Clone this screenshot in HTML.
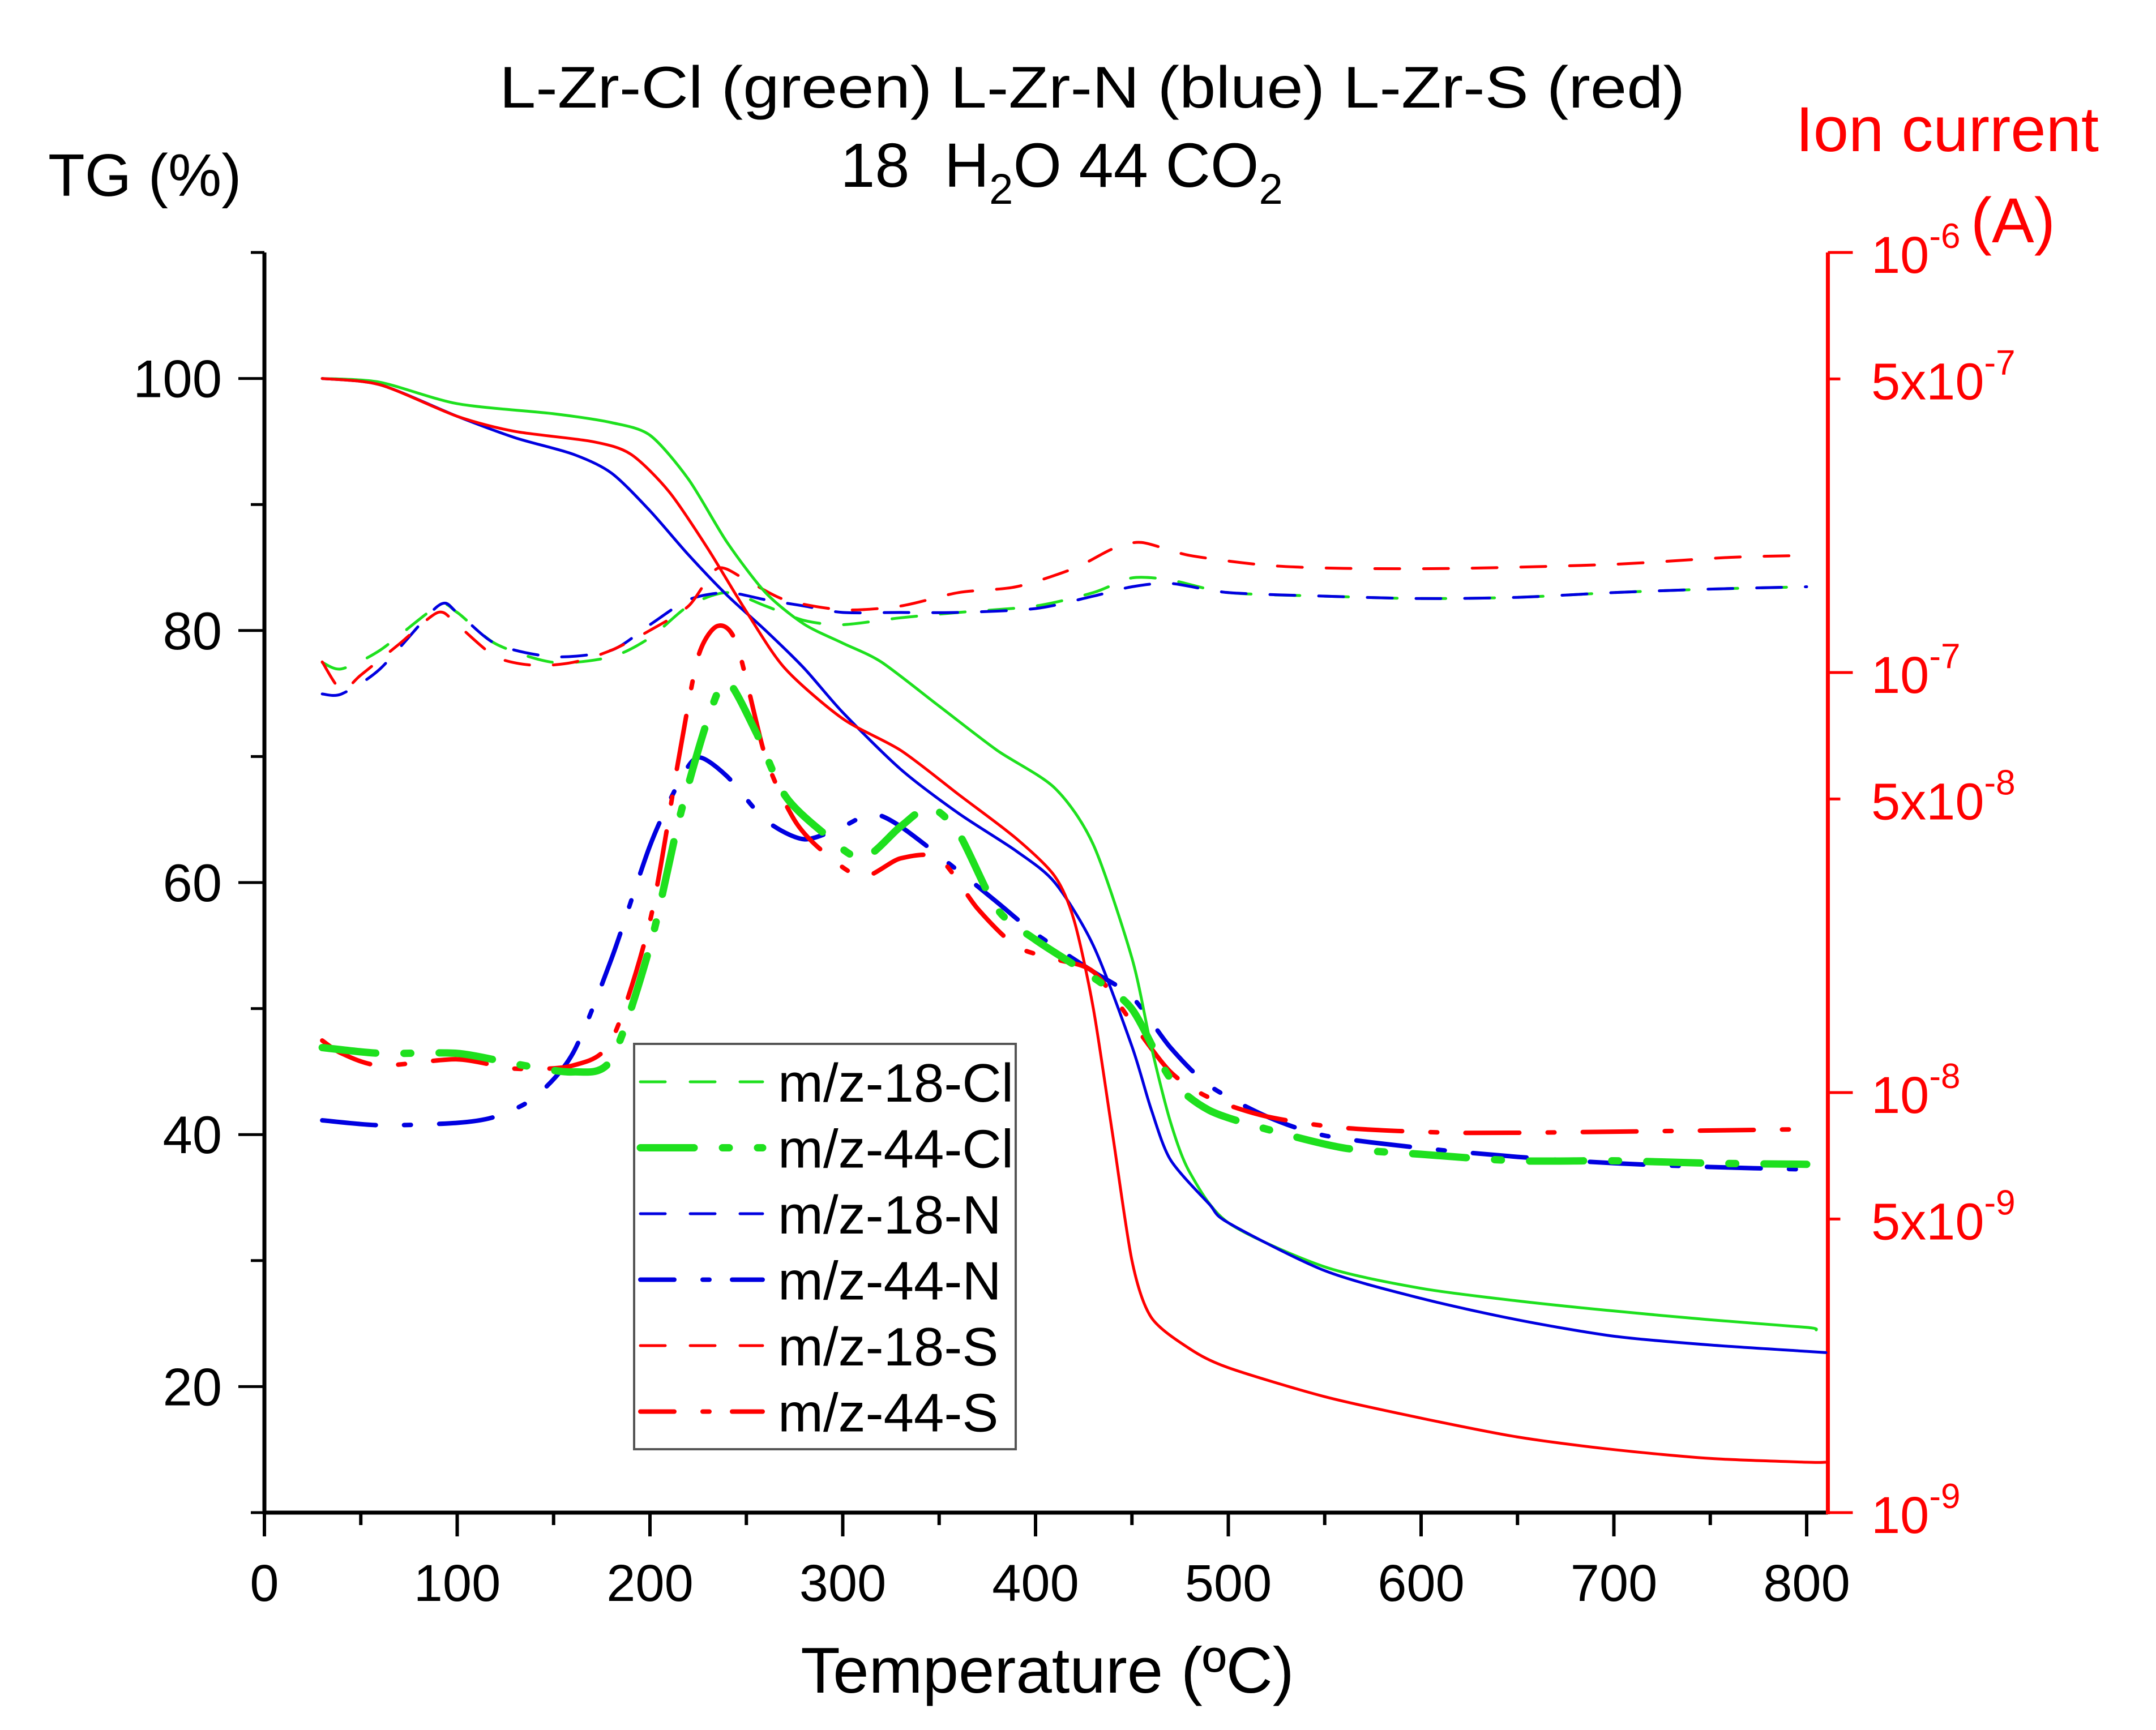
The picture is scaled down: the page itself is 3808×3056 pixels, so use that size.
<!DOCTYPE html>
<html><head><meta charset="utf-8"><style>
html,body{margin:0;padding:0;background:#fff;}
svg{display:block;font-family:"Liberation Sans",Arial,sans-serif;}
</style></head><body>
<svg id="chart" width="3808" height="3056" viewBox="0 0 3808 3056" xmlns="http://www.w3.org/2000/svg">
<rect width="3808" height="3056" fill="#fff"/>
<text x="1929" y="190" font-size="104" text-anchor="middle" textLength="2094" lengthAdjust="spacingAndGlyphs">L-Zr-Cl (green) L-Zr-N (blue) L-Zr-S (red)</text>
<text x="1875" y="330" font-size="110" text-anchor="middle" xml:space="preserve">18  H<tspan font-size="76" dy="30">2</tspan><tspan dy="-30">O 44 CO</tspan><tspan font-size="76" dy="30">2</tspan></text>
<text x="85" y="346" font-size="106">TG (%)</text>
<text x="3707" y="267" font-size="112" fill="#ff0000" text-anchor="end">Ion current</text>
<text x="3630" y="428" font-size="112" fill="#ff0000" text-anchor="end">(A)</text>
<text x="1850" y="2990" font-size="114" text-anchor="middle">Temperature (ºC)</text>
<g id="axes"></g>
<g id="series"></g>
<g id="legend"></g>
</svg>
<script>
// ---- data ----
const xTicks = [0,100,200,300,400,500,600,700,800];
const yTicksLeft = [20,40,60,80,100];
const yTicksRight = [1e-9,5e-9,1e-8,5e-8,1e-7,5e-7,1e-6];
const yTickRightBase = ['10','5x10','10','5x10','10','5x10','10'];
const yTickRightExp = ['-9','-9','-8','-8','-7','-7','-6'];

const tgTempCl = [30,60,100,150,180,200,220,240,260,280,300,320,350,380,410,430,450,460,470,480,500,550,600,650,700,750,800,805];
const tgCl = [100,99.7,98,97.2,96.5,95.5,92,87,83,80.5,79,77.5,74,70.5,67.5,63,54,47,41,37,33,29.5,27.8,26.8,26,25.3,24.7,24.5];
const tgTempN = [30,60,100,130,160,180,200,220,240,260,280,300,330,360,390,410,430,450,460,470,490,500,550,600,650,700,750,800,810];
const tgN = [100,99.5,97,95.3,94,92.5,89.5,86,82.8,80,77,73.5,69,65.5,62.5,60,55,47,42,38,34.5,33,29.2,27,25.3,24,23.3,22.8,22.7];
const tgTempS = [30,60,100,130,170,190,210,230,250,270,300,330,360,390,410,420,430,440,450,460,480,500,550,600,650,700,750,800,810];
const tgS = [100,99.5,97,95.8,95,94,91,86.5,81.5,77,73,70.5,67,63.5,60.5,57,50,40,30,25.5,23,21.5,19.2,17.5,16,15,14.3,14,14];

const msTemp18ClN = [30,40,60,90,100,120,150,180,200,220,240,260,280,300,330,360,400,430,450,470,500,550,600,650,700,750,800];
const ms18Cl = [1.057e-7,1.02e-7,1.13e-7,1.44e-7,1.39e-7,1.17e-7,1.057e-7,1.09e-7,1.21e-7,1.44e-7,1.55e-7,1.44e-7,1.33e-7,1.30e-7,1.35e-7,1.39e-7,1.44e-7,1.55e-7,1.68e-7,1.66e-7,1.55e-7,1.52e-7,1.50e-7,1.51e-7,1.55e-7,1.58e-7,1.60e-7];
const ms18N = [0.889e-7,0.889e-7,1.02e-7,1.44e-7,1.39e-7,1.17e-7,1.09e-7,1.13e-7,1.30e-7,1.49e-7,1.55e-7,1.49e-7,1.44e-7,1.39e-7,1.39e-7,1.39e-7,1.42e-7,1.52e-7,1.60e-7,1.63e-7,1.55e-7,1.52e-7,1.50e-7,1.51e-7,1.55e-7,1.58e-7,1.60e-7];
const msTemp18S = [30,40,50,70,90,100,120,140,160,180,200,220,235,250,270,300,330,360,390,420,440,455,480,520,560,620,700,760,800];
const ms18S = [1.06e-7,0.908e-7,0.986e-7,1.17e-7,1.39e-7,1.30e-7,1.09e-7,1.04e-7,1.057e-7,1.13e-7,1.26e-7,1.44e-7,1.77e-7,1.66e-7,1.49e-7,1.41e-7,1.44e-7,1.55e-7,1.60e-7,1.77e-7,1.97e-7,2.04e-7,1.90e-7,1.80e-7,1.77e-7,1.77e-7,1.81e-7,1.88e-7,1.90e-7];

const msTemp44Cl = [30,60,100,130,160,180,200,215,230,240,255,270,290,310,330,345,360,380,400,430,450,470,490,520,560,600,650,700,750,800];
const ms44Cl = [1.28e-8,1.24e-8,1.24e-8,1.17e-8,1.12e-8,1.20e-8,2.23e-8,4.45e-8,7.74e-8,9.51e-8,7.21e-8,5.10e-8,4.15e-8,3.61e-8,4.30e-8,4.77e-8,4.15e-8,2.74e-8,2.31e-8,1.88e-8,1.58e-8,1.08e-8,0.908e-8,0.818e-8,0.738e-8,0.713e-8,0.688e-8,0.688e-8,0.679e-8,0.675e-8];
const msTemp44N = [30,60,100,120,140,160,180,200,215,225,240,260,280,300,315,330,360,380,400,430,450,470,490,520,550,600,650,700,750,800];
const ms44N = [0.859e-8,0.836e-8,0.847e-8,0.877e-8,0.973e-8,1.24e-8,2.08e-8,3.87e-8,5.47e-8,6.28e-8,5.66e-8,4.45e-8,4.01e-8,4.30e-8,4.61e-8,4.30e-8,3.37e-8,2.84e-8,2.39e-8,1.94e-8,1.69e-8,1.28e-8,1.04e-8,0.877e-8,0.79e-8,0.738e-8,0.703e-8,0.679e-8,0.665e-8,0.656e-8];
const msTemp44S = [30,40,60,100,130,160,180,200,215,225,235,245,260,275,290,310,330,350,370,390,410,430,450,470,490,520,560,620,700,800];
const ms44S = [1.33e-8,1.24e-8,1.16e-8,1.20e-8,1.14e-8,1.16e-8,1.33e-8,2.56e-8,6.28e-8,10.9e-8,12.9e-8,11.7e-8,6.28e-8,4.45e-8,3.74e-8,3.26e-8,3.61e-8,3.61e-8,2.74e-8,2.23e-8,2.08e-8,1.94e-8,1.47e-8,1.12e-8,0.973e-8,0.877e-8,0.824e-8,0.802e-8,0.807e-8,0.818e-8];

const legendLabels = ['m/z-18-Cl','m/z-44-Cl','m/z-18-N','m/z-44-N','m/z-18-S','m/z-44-S'];

// ---- scales ----
const X0 = 467, PXC = 3.405, XMAX = 811;
const TOP = 446, BOT = 2672;
const xS = t => X0 + t * PXC;
const yL = v => BOT - (v - 10) / 100 * (BOT - TOP);
const yR = v => BOT - (Math.log10(v) + 9) / 3 * (BOT - TOP);
const NS = 'http://www.w3.org/2000/svg';
function mk(tag, attrs, parent){ const e=document.createElementNS(NS,tag); for(const k in attrs) e.setAttribute(k,attrs[k]); parent.appendChild(e); return e; }

const axes = document.getElementById('axes');
const XR = xS(XMAX);
let el = mk('line',{x1:X0,y1:TOP,x2:X0,y2:BOT+3,stroke:'#000','stroke-width':7},axes);


el = mk('line',{x1:X0-3,y1:BOT,x2:XR,y2:BOT,stroke:'#000','stroke-width':7},axes);


el = mk('line',{x1:XR,y1:TOP,x2:XR,y2:BOT+3,stroke:'#ff0000','stroke-width':7},axes);


for(let t=0;t<=800;t+=50){
  const major = t%100===0;
  el = mk('line',{x1:xS(t),y1:BOT,x2:xS(t),y2:BOT+(major?42:22),stroke:'#000','stroke-width':6},axes);
  
  
}
xTicks.forEach(t=>{
  const tx = mk('text',{x:xS(t),y:2828,'font-size':92,'text-anchor':'middle'},axes);
  tx.textContent = t;
  
  
});
for(let v=10;v<=110;v+=10){
  const major = v%20===0;
  el = mk('line',{x1:X0,y1:yL(v),x2:X0-(major?46:24),y2:yL(v),stroke:'#000','stroke-width':5},axes);
  
  
}
yTicksLeft.forEach(v=>{
  const tx = mk('text',{x:392,y:yL(v)+33,'font-size':94,'text-anchor':'end'},axes);
  tx.textContent = v;
  
  
});
yTicksRight.forEach((v,i)=>{
  const major = yTickRightBase[i]==='10';
  el = mk('line',{x1:XR,y1:yR(v),x2:XR+(major?44:22),y2:yR(v),stroke:'#ff0000','stroke-width':5},axes);
  
  
  const tx = mk('text',{x:3305,y:yR(v)+36,'font-size':92,fill:'#ff0000'},axes);
  
  
  const s1 = mk('tspan',{},tx); s1.textContent = yTickRightBase[i];
  const s2 = mk('tspan',{'font-size':62,dy:-44},tx); s2.textContent = yTickRightExp[i];
});

// ---- series ----
const G='#1ee01e', B='#0000e0', R='#ff0000';
const styles = {
  dash:{ 'stroke-dasharray':'44 42','stroke-width':5 },
  dd:{ 'stroke-dasharray':'95 50 12 50','stroke-width':8 },
  ddThick:{ 'stroke-dasharray':'95 50 12 50','stroke-width':13 },
  solid:{ 'stroke-width':5 }
};
const series = document.getElementById('series');
function draw(xs, ys, yfn, color, st, name){
  const P = xs.map((t,i)=>[xS(t), yfn(ys[i])]);
  let d = 'M'+P[0][0].toFixed(1)+','+P[0][1].toFixed(1);
  for(let i=0;i<P.length-1;i++){
    const p0=P[Math.max(0,i-1)], p1=P[i], p2=P[i+1], p3=P[Math.min(P.length-1,i+2)];
    const k=1/6*0.8;
    const c1=[p1[0]+(p2[0]-p0[0])*k, p1[1]+(p2[1]-p0[1])*k];
    const c2=[p2[0]-(p3[0]-p1[0])*k, p2[1]-(p3[1]-p1[1])*k];
    d += ' C'+c1[0].toFixed(1)+','+c1[1].toFixed(1)+' '+c2[0].toFixed(1)+','+c2[1].toFixed(1)+' '+p2[0].toFixed(1)+','+p2[1].toFixed(1);
  }
  const p = mk('path',Object.assign({d:d,fill:'none',stroke:color,'stroke-linejoin':'round','stroke-linecap':'round'},styles[st]),series);
  
  
}
draw(msTemp18ClN, ms18Cl, yR, G, 'dash', 'line-mz18-cl');
draw(msTemp18ClN, ms18N, yR, B, 'dash', 'line-mz18-n');
draw(msTemp18S, ms18S, yR, R, 'dash', 'line-mz18-s');
draw(msTemp44N, ms44N, yR, B, 'dd', 'line-mz44-n');
draw(msTemp44S, ms44S, yR, R, 'dd', 'line-mz44-s');
draw(msTemp44Cl, ms44Cl, yR, G, 'ddThick', 'line-mz44-cl');
draw(tgTempCl, tgCl, yL, G, 'solid', 'line-tg-cl');
draw(tgTempN, tgN, yL, B, 'solid', 'line-tg-n');
draw(tgTempS, tgS, yL, R, 'solid', 'line-tg-s');

// ---- legend ----
const lg = document.getElementById('legend');
el = mk('rect',{x:1120,y:1844,width:674,height:716,fill:'#fff',stroke:'#555','stroke-width':4},lg);


const legColors=[G,G,B,B,R,R];
const legStyles=['dash','ddThick','dash','dd','dash','dd'];
const legDash=['44 44','95 50 12 50','44 44','60 50 12 40','44 44','60 50 12 40'];
legendLabels.forEach((lab,i)=>{
  const y = 1911 + i*116.5;
  const ln = mk('line',{x1:1131,y1:y,x2:1347,y2:y,stroke:legColors[i],'stroke-width':styles[legStyles[i]]['stroke-width'],'stroke-dasharray':legDash[i],'stroke-linecap':'round'},lg);
  
  
  const tx = mk('text',{x:1374,y:y+35,'font-size':96},lg);
  tx.textContent = lab;
  
  
});
</script>
</body></html>
